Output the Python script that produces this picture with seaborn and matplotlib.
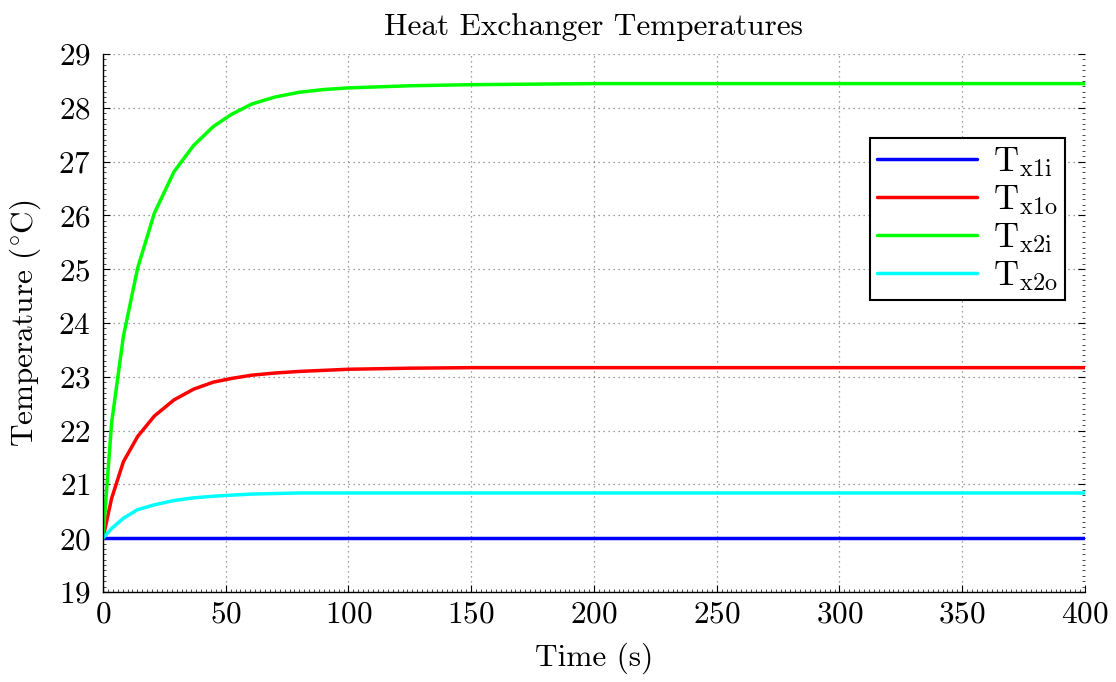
import numpy as np
import pandas as pd
import seaborn as sns
import matplotlib.pyplot as plt
from matplotlib.ticker import MultipleLocator

# values
time_s = [0, 3.5, 8.3, 14.1, 20.9, 28.9, 36.9, 44.9, 52.4, 60.6, 70, 80, 90,
          100, 125, 150, 200, 250, 300, 350, 400]
t_x1i = [20.0] * len(time_s)
t_x1o = [20.0, 20.74, 21.42, 21.89, 22.27, 22.57, 22.77, 22.90, 22.97, 23.03,
         23.07, 23.10, 23.12, 23.14, 23.16, 23.17, 23.17, 23.17, 23.17, 23.17, 23.17]
t_x2i = [20.0, 22.14, 23.75, 25.02, 26.04, 26.81, 27.30, 27.65, 27.88, 28.07,
         28.20, 28.29, 28.34, 28.37, 28.41, 28.43, 28.45, 28.45, 28.45, 28.45, 28.45]
t_x2o = [20.0, 20.18, 20.37, 20.53, 20.62, 20.70, 20.75, 20.78, 20.80, 20.82,
         20.83, 20.84, 20.84, 20.84, 20.84, 20.84, 20.84, 20.84, 20.84, 20.84, 20.84]

labels = [r"T$_{\rm x1i}$", r"T$_{\rm x1o}$", r"T$_{\rm x2i}$", r"T$_{\rm x2o}$"]
colors = ["#0000ff", "#ff0000", "#00ff00", "#00ffff"]

sns.set_style("ticks")
plt.rcParams["font.family"] = "serif"
plt.rcParams["font.serif"] = ["cmr10"]
plt.rcParams["mathtext.fontset"] = "cm"
plt.rcParams["axes.formatter.use_mathtext"] = True
plt.rcParams["text.color"] = "black"
plt.rcParams["axes.labelcolor"] = "black"
plt.rcParams["xtick.color"] = "black"
plt.rcParams["ytick.color"] = "black"

frames = []
for name, vals in zip(labels, [t_x1i, t_x1o, t_x2i, t_x2o]):
    frames.append(pd.DataFrame({"Time": time_s, "Temp": vals, "Series": name}))
df = pd.concat(frames, ignore_index=True)

fig = plt.figure(figsize=(11.16, 6.82), dpi=100)
ax = fig.add_axes([0.0923, 0.132, 0.8799, 0.7888])

sns.lineplot(df, x="Time", y="Temp", hue="Series", hue_order=labels,
             palette=colors, linewidth=2.5, ax=ax, sort=False)

ax.set_xlim(0, 400)
ax.set_ylim(19, 29)
ax.xaxis.set_major_locator(MultipleLocator(50))
ax.yaxis.set_major_locator(MultipleLocator(1))
ax.xaxis.set_minor_locator(MultipleLocator(2))
ax.yaxis.set_minor_locator(MultipleLocator(0.1))
ax.tick_params(which="both", direction="in", labelsize=22.5, color="black",
               labelcolor="black")
ax.tick_params(which="major", length=5, width=0.8)
ax.tick_params(which="minor", length=2, width=0.5)
ax.tick_params(axis="y", which="major", pad=9)
ax.tick_params(axis="x", which="major", pad=6)
ax.tick_params(axis="y", which="both", right=True, colors="#aaaaaa",
               labelcolor="black")
ax.tick_params(axis="y", which="both", left=True, color="black")
ax.grid(True, which="major", linestyle=(0, (1, 3)), color="#808080",
        linewidth=0.9)
sns.despine(ax=ax, top=True, right=True)
for s in ["left", "bottom"]:
    ax.spines[s].set_linewidth(1.0)
    ax.spines[s].set_color("black")

ax.set_xlabel("Time (s)", fontsize=22.5, labelpad=10, color="black")
ax.set_ylabel(r"Temperature ($^{\circ}$C)", fontsize=22.5, labelpad=11,
              color="black")
ax.set_title("Heat Exchanger Temperatures", fontsize=22.5, pad=14,
             color="black")

leg = ax.legend(loc="upper right", bbox_to_anchor=(0.9796, 0.8439),
                fontsize=25, handlelength=2.9, fancybox=False, framealpha=1,
                edgecolor="black", borderpad=0.2, labelspacing=0.12,
                handletextpad=0.45, borderaxespad=0)
leg.get_frame().set_linewidth(1.5)
for t in leg.get_texts():
    t.set_color("black")

fig.savefig("out.png", dpi=100)
